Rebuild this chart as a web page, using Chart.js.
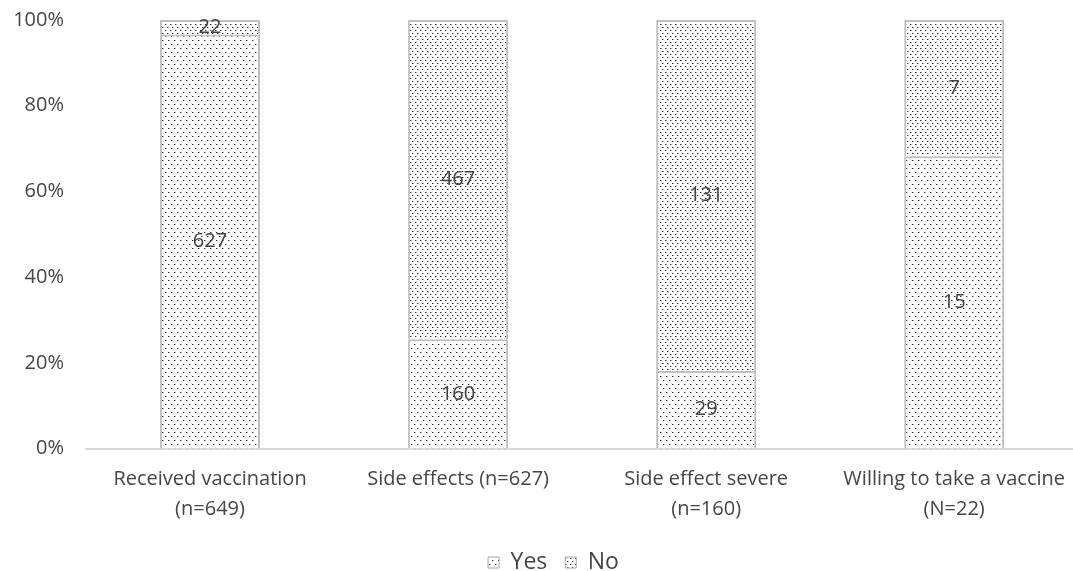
<!DOCTYPE html>
<html>
<head>
<meta charset="utf-8">
<script src="https://cdn.jsdelivr.net/npm/chart.js@4.4.1/dist/chart.umd.min.js"></script>
<style>
  html, body { margin: 0; padding: 0; background: #ffffff; }
  #wrap { width: 1073px; height: 571px; position: relative; overflow: hidden; }
  #chart { position: absolute; left: 0; top: 0; }
</style>
</head>
<body>
<div id="wrap"><canvas id="chart" width="1081" height="571"></canvas></div>
<script>
// Survey responses: counts per question
const categories = [
  ['Received vaccination', '(n=649)'],
  ['Side effects (n=627)'],
  ['Side effect severe', '(n=160)'],
  ['Willing to take a vaccine', '(N=22)']
];
const yesCounts = [627, 160, 29, 15];
const noCounts = [22, 467, 131, 7];
const seriesNames = ['Yes', 'No'];
const yTicks = [0, 20, 40, 60, 80, 100];

const totals = yesCounts.map((v, i) => v + noCounts[i]);
const toShare = (arr) => arr.map((v, i) => v / totals[i] * 100);

const FONT = "'Open Sans', 'DejaVu Sans', sans-serif";
const TEXT = '#454545';

// Dotted fill patterns (sparse for Yes, denser for No)
function dotPattern(w, h, dots) {
  const c = document.createElement('canvas');
  c.width = w; c.height = h;
  const g = c.getContext('2d');
  g.fillStyle = '#ffffff';
  g.fillRect(0, 0, w, h);
  dots.forEach(([x, y]) => {
    g.fillStyle = '#2a2a2a';
    g.fillRect(x, y, 1, 1);
    g.fillStyle = '#b0b0b0';
    g.fillRect(x + 1, y, 1, 1);
  });
  return g.createPattern(c, 'repeat');
}
const ctx = document.getElementById('chart').getContext('2d');
const yesFill = dotPattern(6, 8, [[0, 0], [3, 4]]);
const noFill = dotPattern(5, 6, [[0, 0], [2, 3]]);

// Draws the raw count in the middle of each stacked segment
const segmentLabels = {
  id: 'segmentLabels',
  afterDatasetsDraw(chart) {
    const c = chart.ctx;
    c.save();
    c.font = '20px ' + FONT;
    c.fillStyle = '#404040';
    c.textAlign = 'center';
    c.textBaseline = 'middle';
    chart.data.datasets.forEach((ds, di) => {
      const meta = chart.getDatasetMeta(di);
      meta.data.forEach((bar, i) => {
        const y = (bar.y + bar.base) / 2;
        c.fillText(String(ds.counts[i]), bar.x, y);
      });
    });
    c.restore();
  }
};

// Nudges the legend down and to the side after layout
const legendOffset = {
  id: 'legendOffset',
  afterLayout(chart) {
    const lg = chart.legend;
    if (!lg) return;
    lg.top += 13; lg.bottom += 13;
    lg.left += 8; lg.right += 8;
  }
};

new Chart(ctx, {
  type: 'bar',
  data: {
    labels: categories,
    datasets: [
      {
        label: seriesNames[0],
        data: toShare(yesCounts),
        counts: yesCounts,
        backgroundColor: yesFill,
        borderColor: '#bfbfbf',
        borderWidth: 2
      },
      {
        label: seriesNames[1],
        data: toShare(noCounts),
        counts: noCounts,
        backgroundColor: noFill,
        borderColor: '#bfbfbf',
        borderWidth: 2
      }
    ]
  },
  options: {
    responsive: false,
    animation: false,
    devicePixelRatio: 1,
    layout: { padding: { top: 20, left: 10, right: 0, bottom: 0 } },
    datasets: { bar: { barPercentage: 0.403, categoryPercentage: 1 } },
    plugins: {
      legend: {
        position: 'bottom',
        labels: {
          font: { family: FONT, size: 23 },
          color: TEXT,
          boxWidth: 11,
          boxHeight: 11,
          padding: 18,
          generateLabels(chart) {
            return chart.data.datasets.map((ds, i) => ({
              text: ds.label,
              fillStyle: ds.backgroundColor,
              strokeStyle: '#a6a6a6',
              lineWidth: 1,
              fontColor: TEXT,
              datasetIndex: i
            }));
          }
        }
      },
      tooltip: { enabled: false }
    },
    scales: {
      x: {
        stacked: true,
        grid: { display: false, drawTicks: false },
        border: { display: true, color: '#d9d9d9', width: 2 },
        afterFit(scale) { scale.height = 71.4; },
        ticks: {
          color: TEXT,
          font: { family: FONT, size: 20, lineHeight: 1.5 },
          padding: 16,
          maxRotation: 0
        }
      },
      y: {
        stacked: true,
        min: 0,
        max: 100,
        afterBuildTicks(scale) { scale.ticks = yTicks.map(v => ({ value: v })); },
        afterFit(scale) { scale.width = 76; scale.paddingTop = 0; scale.paddingBottom = 0; },
        grid: { display: false, drawTicks: false },
        border: { display: false },
        ticks: {
          color: TEXT,
          font: { family: FONT, size: 20 },
          padding: 22,
          callback: (v) => v + '%'
        }
      }
    }
  },
  plugins: [segmentLabels, legendOffset]
});
</script>
</body>
</html>
